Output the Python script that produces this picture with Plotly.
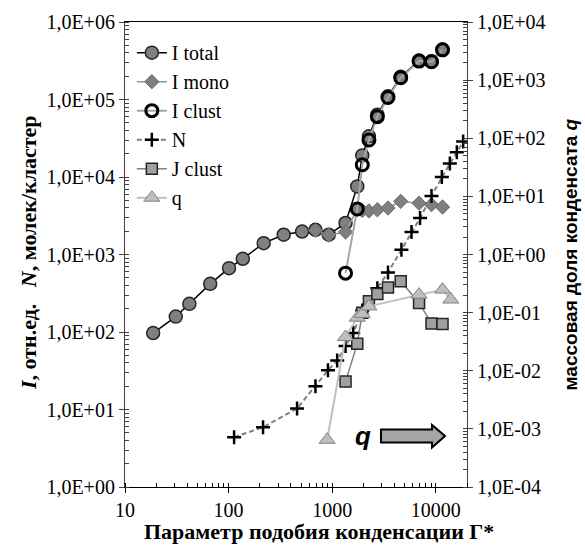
import plotly.graph_objects as go

# ---------------- data ----------------
x_total = [18.7, 30.9, 41.8, 66.4, 101, 137, 218, 340, 512, 689, 927, 1345, 1746, 1951, 2261, 2727, 3453, 4584, 6890, 9085, 11610]
I_total = [97, 158, 231, 418, 667, 880, 1400, 1800, 1980, 2085, 1800, 2550, 7560, 19000, 33500, 63800, 110000, 196000, 318000, 311000, 441000]

x_mono = [689, 927, 1345, 1746, 1951, 2261, 2727, 3453, 4584, 6890, 9085, 11610]
I_mono = [2050, 1780, 1950, 3850, 3700, 3650, 3780, 3980, 4850, 4600, 4400, 4100]

x_clust = [1345, 1746, 1951, 2261, 2727, 3453, 4584, 6890, 9085, 11610]
I_clust = [575, 3860, 14400, 30000, 60000, 106000, 191000, 313000, 307000, 437000]

x_N = [113, 215, 458, 689, 910, 1117, 1345, 1596, 1951, 2727, 3453, 4656, 5825, 7047, 9085, 11430, 13660, 15960, 18360]
N_vals = [4.4, 5.9, 10.3, 20, 32, 43, 66, 97, 190, 368, 585, 1150, 1950, 2950, 5700, 10000, 14900, 20800, 28800]

x_J = [1345, 1746, 1951, 2261, 2727, 3453, 4584, 6890, 9085, 11610]
J_clust = [0.0065, 0.029, 0.10, 0.157, 0.21, 0.27, 0.347, 0.147, 0.065, 0.064]

x_q = [894, 1345, 1746, 1951, 2261, 6890, 11610, 13960]
q_vals = [0.00065, 0.038, 0.082, 0.095, 0.128, 0.204, 0.249, 0.168]

x_tickvals = [10, 100, 1000, 10000]
x_ticktext = ["10", "100", "1000", "10000"]
yl_tickvals = [1, 10, 100, 1000, 10000, 100000, 1000000]
yl_ticktext = ["1,0E+00", "1,0E+01", "1,0E+02", "1,0E+03", "1,0E+04", "1,0E+05", "1,0E+06"]
yr_tickvals = [1e-4, 1e-3, 1e-2, 1e-1, 1, 10, 100, 1000, 10000]
yr_ticktext = ["1,0E-04", "1,0E-03", "1,0E-02", "1,0E-01", "1,0E+00", "1,0E+01", "1,0E+02", "1,0E+03", "1,0E+04"]

SERIF = "Liberation Serif, Tinos, Times New Roman, DejaVu Serif, serif"
SANS = "Liberation Sans, Arimo, Arial, Noto Sans, sans-serif"

fig = go.Figure()

fig.add_trace(go.Scatter(
    x=x_total, y=I_total, name="I total", mode="lines+markers", legendgroup="a",
    line=dict(color="#000000", width=1.5),
    marker=dict(symbol="circle", size=13, color="#808080", line=dict(color="#262626", width=1.5)),
))
fig.add_trace(go.Scatter(
    x=x_mono, y=I_mono, name="I mono", mode="lines+markers", legendgroup="b",
    line=dict(color="#8c96a6", width=1.5),
    marker=dict(symbol="diamond", size=11, color="#7f7f7f", line=dict(color="#6a6a6a", width=1)),
))
fig.add_trace(go.Scatter(
    x=x_clust, y=I_clust, name="I clust", mode="lines+markers", legendgroup="c",
    line=dict(color="#a6a6a6", width=2),
    marker=dict(symbol="circle-open", size=12, color="#000000", line=dict(color="#000000", width=3)),
))
fig.add_trace(go.Scatter(
    x=x_N, y=N_vals, name="N", mode="lines+markers", legendgroup="d",
    line=dict(color="#808080", width=2, dash="5px,3px"),
    marker=dict(symbol="cross-thin", size=10, color="#000000", line=dict(color="#000000", width=2.5)),
))
fig.add_trace(go.Scatter(
    x=x_J, y=J_clust, name="J clust", mode="lines+markers", legendgroup="e", yaxis="y2",
    line=dict(color="#808080", width=1.5),
    marker=dict(symbol="square", size=11, color="#a0a0a0", line=dict(color="#262626", width=1.5)),
))
fig.add_trace(go.Scatter(
    x=x_q, y=q_vals, name="q", mode="lines+markers", legendgroup="f", yaxis="y2",
    line=dict(color="#bfbfbf", width=2),
    marker=dict(symbol="triangle-up", size=14, color="#bfbfbf", line=dict(color="#808080", width=1)),
))

axis_font = dict(family=SERIF, size=20, color="#000000")

fig.update_layout(
    width=585, height=547,
    margin=dict(l=125, r=118, t=22, b=60),
    paper_bgcolor="white", plot_bgcolor="white",
    showlegend=True,
    legend=dict(x=0.02, y=0.976, xanchor="left", yanchor="top",
                font=dict(family=SERIF, size=20, color="#000000"),
                bgcolor="rgba(0,0,0,0)", traceorder="grouped", tracegroupgap=0,
                itemwidth=30),
    xaxis=dict(type="log", range=[1, 4.30103], tickmode="array", tickvals=x_tickvals, ticktext=x_ticktext,
               tickfont=axis_font, ticks="outside", ticklen=5, tickcolor="#000000",
               showline=True, linecolor="#000000", linewidth=1.2, mirror=True,
               showgrid=False, zeroline=False,
               minor=dict(ticks="inside", ticklen=4, tickcolor="#000000", dtick="D1", showgrid=False)),
    yaxis=dict(type="log", range=[0, 6], tickmode="array", tickvals=yl_tickvals, ticktext=yl_ticktext,
               tickfont=axis_font, ticks="outside", ticklen=5, tickcolor="#404040",
               showline=True, linecolor="#404040", linewidth=1.2,
               showgrid=False, zeroline=False,
               minor=dict(ticks="inside", ticklen=4, tickcolor="#404040", dtick="D1", showgrid=False)),
    yaxis2=dict(type="log", range=[-4, 4], overlaying="y", side="right", tickmode="array",
                tickvals=yr_tickvals, ticktext=yr_ticktext,
                tickfont=axis_font, ticks="outside", ticklen=5, tickcolor="#404040",
                showline=True, linecolor="#404040", linewidth=1.2,
                showgrid=False, zeroline=False,
                minor=dict(ticks="inside", ticklen=4, tickcolor="#404040", dtick="D1", showgrid=False)),
)

# axis titles
fig.add_annotation(text="<b>Параметр подобия конденсации Г*</b>", xref="paper", yref="paper",
                   x=0.567, y=-0.095, xanchor="center", yanchor="middle", showarrow=False,
                   font=dict(family=SERIF, size=22, color="#000000"))
fig.add_annotation(text="<b><i>I</i>, отн.ед.\u00a0\u00a0\u00a0<i>N</i>, молек/кластер</b>", xref="paper", yref="paper",
                   x=-0.284, y=0.505, xanchor="center", yanchor="middle", textangle=-90, showarrow=False,
                   font=dict(family=SERIF, size=22, color="#000000"))
fig.add_annotation(text="<b>массовая доля конденсата <i>q</i></b>", xref="paper", yref="paper",
                   x=1.304, y=0.50, xanchor="center", yanchor="middle", textangle=-90, showarrow=False,
                   font=dict(family=SANS, size=19, color="#000000"))

# q label with block arrow
fig.add_annotation(text="<b><i>q</i></b>", xref="paper", yref="paper",
                   x=0.697, y=0.11, xanchor="center", yanchor="middle", showarrow=False,
                   font=dict(family=SANS, size=26, color="#000000"))
fig.add_shape(type="path", xref="paper", yref="paper",
              path="M 0.7485,0.1238 L 0.8977,0.1238 L 0.8977,0.1335 L 0.9357,0.1098 L 0.8977,0.0850 L 0.8977,0.0958 L 0.7485,0.0958 Z",
              fillcolor="#a6a6a6", line=dict(color="#000000", width=2))

fig.write_html("out.html", config={"displayModeBar": False},
               post_script="document.body.style.margin='0';")
